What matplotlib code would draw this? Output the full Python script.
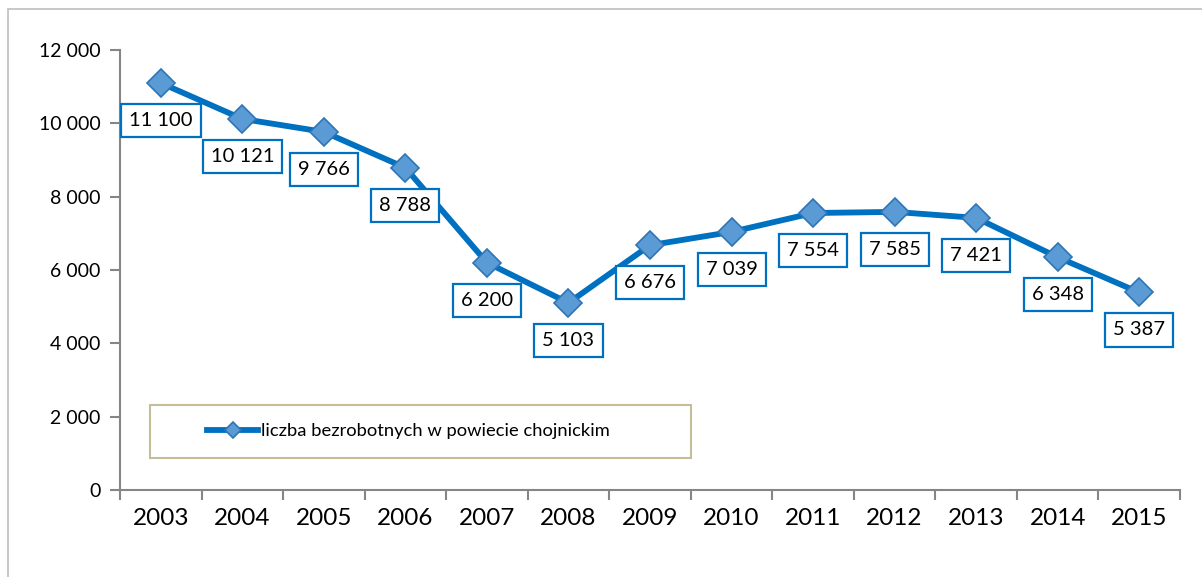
import numpy as np
import matplotlib
matplotlib.use("Agg")
import matplotlib.pyplot as plt
from matplotlib.patches import Rectangle
from matplotlib.ticker import FuncFormatter, FixedLocator

plt.rcParams['font.family'] = ['Lato', 'DejaVu Sans']

years = ['2003', '2004', '2005', '2006', '2007', '2008', '2009',
         '2010', '2011', '2012', '2013', '2014', '2015']
unemployed = [11100, 10121, 9766, 8788, 6200, 5103, 6676,
              7039, 7554, 7585, 7421, 6348, 5387]
series_name = 'liczba bezrobotnych w powiecie chojnickim'

line_col = '#0070C0'
axis_col = '#868686'


def fmt(v):
    return f'{int(v):,}'.replace(',', ' ')


fig = plt.figure(figsize=(12.02, 5.77), dpi=100)
W, H = 1202, 577

# outer chart border (right/bottom fall outside the picture)
fig.patches.append(Rectangle((8 / W, -0.1), 1.1, 1 - 9 / H + 0.1,
                             transform=fig.transFigure, fill=False,
                             edgecolor='#BFBFBF', linewidth=1.2))

ax = fig.add_axes([120 / W, 87 / H, 1060 / W, 440 / H])
x = np.arange(len(years))
ax.plot(x, unemployed, color=line_col, linewidth=4.2, marker='D',
        markersize=14, markerfacecolor='#5B9BD5', markeredgecolor='#2E75B6',
        markeredgewidth=1.2, label=series_name, zorder=3)

for xi, v in zip(x, unemployed):
    ax.annotate(fmt(v), (xi, v), xytext=(0, -27), textcoords='offset points',
                ha='center', va='center', fontsize=14.5, zorder=4,
                bbox=dict(boxstyle='square,pad=0.4', fc='white',
                          ec=line_col, lw=1.6))

ax.set_xlim(-0.5, len(years) - 0.5)
ax.set_ylim(0, 12000)
ax.set_yticks(np.arange(0, 12001, 2000))
ax.yaxis.set_major_formatter(FuncFormatter(lambda v, p: fmt(v)))
ax.set_xticks(x)
ax.set_xticklabels(years, fontsize=17.5)
ax.xaxis.set_minor_locator(FixedLocator(np.arange(-0.5, len(years), 1)))
ax.tick_params(axis='x', which='major', length=0, pad=13)
ax.tick_params(axis='x', which='minor', length=7, color=axis_col, width=1.5)
ax.tick_params(axis='y', length=7, color=axis_col, width=1.5, labelsize=14, pad=7)

for s in ['top', 'right']:
    ax.spines[s].set_visible(False)
for s in ['left', 'bottom']:
    ax.spines[s].set_color(axis_col)
    ax.spines[s].set_linewidth(1.5)

# legend box
ax.add_patch(Rectangle((150 / W, 1 - 458 / H), 541 / W, 53 / H,
                       transform=fig.transFigure, fill=True, fc='white',
                       edgecolor='#C4BD97', linewidth=1.5, zorder=5,
                       clip_on=False))
leg = ax.legend(loc='center left', bbox_to_anchor=(207 / W, 1 - 431 / H),
                bbox_transform=fig.transFigure, frameon=False, fontsize=13.2,
                borderpad=0, borderaxespad=0, handlelength=2.8,
                handletextpad=0.15, markerscale=0.6)
leg.set_zorder(6)

fig.savefig('out.png', dpi=100)
